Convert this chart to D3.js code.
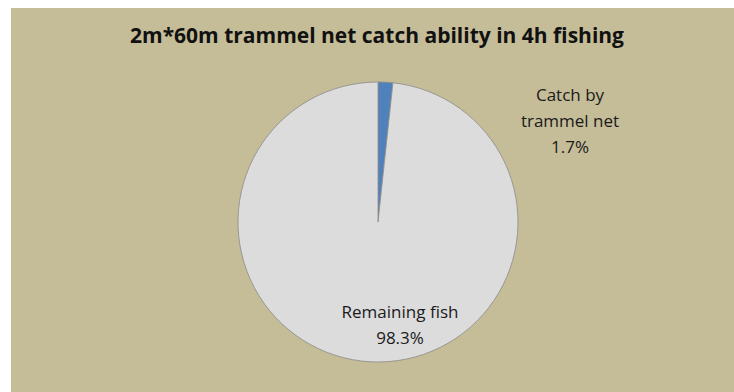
<!DOCTYPE html>
<html>
<head>
<meta charset="utf-8">
<script src="https://cdn.jsdelivr.net/npm/d3@7"></script>
<style>
  body { margin: 0; background: #fff; }
  svg { display: block; }
</style>
</head>
<body>
<div id="chart"></div>
<script>
// pie data
const labels = ["Catch by trammel net", "Remaining fish"];
const values = [1.7, 98.3];
const colors = ["#4f81bd", "#dcdcdc"];

const width = 734, height = 392;

const svg = d3.select("#chart").append("svg")
    .attr("width", width)
    .attr("height", height);

// tan panel, white strip left and top
svg.append("rect")
    .attr("x", 11).attr("y", 8)
    .attr("width", width - 11).attr("height", height - 8)
    .attr("fill", "#c5bc98");

svg.append("text")
    .attr("x", 377).attr("y", 43)
    .attr("text-anchor", "middle")
    .attr("font-family", "Open Sans")
    .attr("font-weight", "bold")
    .attr("font-size", 21)
    .attr("fill", "#111")
    .text("2m*60m trammel net catch ability in 4h fishing");

const cx = 378, cy = 222, r = 140;

const pie = d3.pie().sort(null).value(d => d)(values);
const arc = d3.arc().innerRadius(0).outerRadius(r);

const g = svg.append("g").attr("transform", `translate(${cx},${cy})`);

g.selectAll("path")
    .data(pie)
    .enter()
    .append("path")
    .attr("d", arc)
    .attr("fill", (d, i) => colors[i])
    .attr("stroke", "#8a8a8a")
    .attr("stroke-width", 0.8);

// labels
const labelLines = [
    ["Catch by", "trammel net", values[0] + "%"],
    ["Remaining fish", values[1] + "%"]
];
const labelPos = [[570 - cx, 95 - cy], [400 - cx, 312 - cy]];

labelLines.forEach((lines, i) => {
    const t = g.append("text")
        .attr("text-anchor", "middle")
        .attr("font-family", "Open Sans")
        .attr("font-size", 17)
        .attr("fill", "#1a1a1a");
    lines.forEach((s, j) => {
        t.append("tspan")
            .attr("x", labelPos[i][0])
            .attr("y", labelPos[i][1] + j * 26 + 6)
            .text(s);
    });
});
</script>
</body>
</html>
